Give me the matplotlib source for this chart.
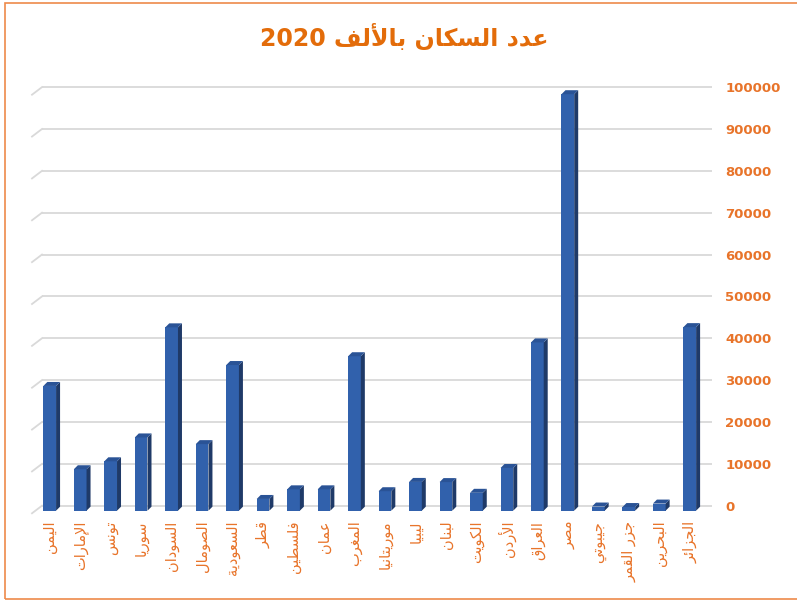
import numpy as np
import matplotlib
matplotlib.use('Agg')
import matplotlib.pyplot as plt
from matplotlib.patches import Polygon, Rectangle

# data: population in thousands, 2020
countries = ['اليمن', 'الإمارات', 'تونس', 'سوريا', 'السودان', 'الصومال', 'السعودية', 'قطر',
             'فلسطين', 'عمان', 'المغرب', 'موريتانيا', 'ليبيا', 'لبنان', 'الكويت', 'الأردن',
             'العراق', 'مصر', 'جيبوتي', 'جزر القمر', 'البحرين', 'الجزائر']
population = [29800, 9900, 11800, 17500, 43800, 15900, 34800, 2800, 5100, 5100, 36900,
              4650, 6870, 6830, 4270, 10200, 40200, 99500, 990, 870, 1700, 43850]
yticks = [0, 10000, 20000, 30000, 40000, 50000, 60000, 70000, 80000, 90000, 100000]
title = 'عدد السكان بالألف 2020'

# matplotlib has no arabic shaping, so use presentation forms (iso, final, initial, medial)
FORMS = {
    'ا': (0xFE8D, 0xFE8E, None, None), 'أ': (0xFE83, 0xFE84, None, None),
    'إ': (0xFE87, 0xFE88, None, None), 'ب': (0xFE8F, 0xFE90, 0xFE91, 0xFE92),
    'ة': (0xFE93, 0xFE94, None, None), 'ت': (0xFE95, 0xFE96, 0xFE97, 0xFE98),
    'ج': (0xFE9D, 0xFE9E, 0xFE9F, 0xFEA0), 'ح': (0xFEA1, 0xFEA2, 0xFEA3, 0xFEA4),
    'د': (0xFEA9, 0xFEAA, None, None), 'ر': (0xFEAD, 0xFEAE, None, None),
    'ز': (0xFEAF, 0xFEB0, None, None), 'س': (0xFEB1, 0xFEB2, 0xFEB3, 0xFEB4),
    'ص': (0xFEB9, 0xFEBA, 0xFEBB, 0xFEBC), 'ط': (0xFEC1, 0xFEC2, 0xFEC3, 0xFEC4),
    'ع': (0xFEC9, 0xFECA, 0xFECB, 0xFECC), 'غ': (0xFECD, 0xFECE, 0xFECF, 0xFED0),
    'ف': (0xFED1, 0xFED2, 0xFED3, 0xFED4), 'ق': (0xFED5, 0xFED6, 0xFED7, 0xFED8),
    'ك': (0xFED9, 0xFEDA, 0xFEDB, 0xFEDC), 'ل': (0xFEDD, 0xFEDE, 0xFEDF, 0xFEE0),
    'م': (0xFEE1, 0xFEE2, 0xFEE3, 0xFEE4), 'ن': (0xFEE5, 0xFEE6, 0xFEE7, 0xFEE8),
    'و': (0xFEED, 0xFEEE, None, None), 'ي': (0xFEF1, 0xFEF2, 0xFEF3, 0xFEF4),
    'ئ': (0xFE89, 0xFE8A, 0xFE8B, 0xFE8C),
}
LAM_ALEF = {'ا': (0xFEFB, 0xFEFC), 'أ': (0xFEF7, 0xFEF8), 'إ': (0xFEF9, 0xFEFA)}


def shape_word(word):
    units = []
    i = 0
    while i < len(word):
        if word[i] == 'ل' and i + 1 < len(word) and word[i + 1] in LAM_ALEF:
            units.append(('LA', word[i + 1]))
            i += 2
        else:
            units.append(('C', word[i]))
            i += 1
    out = []
    for k, (kind, c) in enumerate(units):
        prev = units[k - 1] if k > 0 else None
        nxt = units[k + 1] if k + 1 < len(units) else None
        join_prev = prev is not None and prev[0] == 'C' and prev[1] in FORMS and FORMS[prev[1]][2] is not None
        if kind == 'LA':
            out.append(chr(LAM_ALEF[c][1 if join_prev else 0]))
            continue
        if c not in FORMS:
            out.append(c)
            continue
        iso, fin, ini, med = FORMS[c]
        join_next = ini is not None and nxt is not None and (nxt[0] == 'LA' or nxt[1] in FORMS)
        if join_prev and join_next:
            out.append(chr(med))
        elif join_prev:
            out.append(chr(fin))
        elif join_next:
            out.append(chr(ini))
        else:
            out.append(chr(iso))
    return ''.join(out)


def rtl(text):
    words = text.split(' ')
    vis = []
    for w in reversed(words):
        if w.isdigit():
            vis.append(w)
        else:
            vis.append(shape_word(w)[::-1])
    return ' '.join(vis)


plt.rcParams['font.family'] = ['DejaVu Sans']
orange = '#E8742A'
front_c, side_c, top_c = '#3161AC', '#1F3A68', '#2A5396'

fig = plt.figure(figsize=(7.97, 6.0), dpi=100)
ax = fig.add_axes([42 / 797, 89 / 600, 670 / 797, 431 / 600])
x0, x1 = -0.253, 21.73
y0, y1 = -1270, 101700
ax.set_xlim(x0, x1)
ax.set_ylim(y0, y1)

# pixel -> data helpers for the fake 3d look
ux = 670 / (x1 - x0)
uy = 431 / (y1 - y0)
base = -5 / uy
ddx, ddy = 4 / ux, 4 / uy
w = 12.7 / ux

# back wall gridlines and the side wall bits
ax.hlines(yticks, x0, x1, color='#D9D9D9', lw=1.3, zorder=1)
for yt in yticks:
    ax.plot([x0 - 10 / ux, x0], [yt - 7.6 / uy, yt], color='#D9D9D9', lw=1.3, clip_on=False, zorder=1)

xs = np.arange(len(countries))
for i, v in zip(xs, population):
    ax.add_patch(Rectangle((i - w / 2, base), w, v, facecolor=front_c, edgecolor='none', zorder=3))
    ax.add_patch(Polygon([(i + w / 2, base), (i + w / 2 + ddx, base + ddy),
                          (i + w / 2 + ddx, base + v + ddy), (i + w / 2, base + v)],
                         closed=True, facecolor=side_c, edgecolor='none', zorder=3))
    ax.add_patch(Polygon([(i - w / 2, base + v), (i + w / 2, base + v),
                          (i + w / 2 + ddx, base + v + ddy), (i - w / 2 + ddx, base + v + ddy)],
                         closed=True, facecolor=top_c, edgecolor='none', zorder=3))

for s in ax.spines.values():
    s.set_visible(False)

ax.set_xticks(xs)
ax.set_xticklabels([rtl(c) for c in countries], rotation=90, color=orange, fontsize=10.5)
ax.tick_params(axis='x', length=0, pad=7)

ax.yaxis.tick_right()
ax.set_yticks(yticks)
ax.set_yticklabels([str(t) for t in yticks], color=orange, fontsize=9.5, fontweight='bold')
ax.tick_params(axis='y', length=0, pad=9.5)

fig.text(404 / 797, 1 - 37 / 600, rtl(title), ha='center', va='center',
         fontsize=17, fontweight='bold', color='#E36C0A')

# chart border
fig.add_artist(Rectangle((4.5 / 797, 1.5 / 600), 1.0, 1 - 4 / 600, transform=fig.transFigure,
                         fill=False, edgecolor='#EE8A4A', lw=1.2))

fig.savefig('out.png', dpi=100, facecolor='white')
